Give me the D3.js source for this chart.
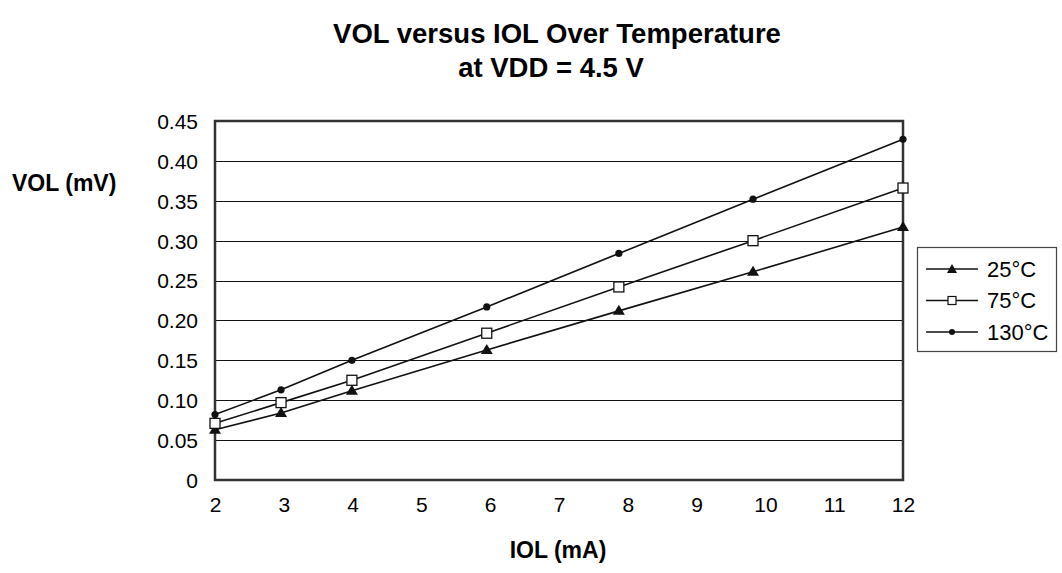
<!DOCTYPE html>
<html>
<head>
<meta charset="utf-8">
<script src="https://cdn.jsdelivr.net/npm/d3@7"></script>
<style>
  body { margin: 0; background: #fff; }
  svg { font-family: "Liberation Sans", Arial, sans-serif; }
</style>
</head>
<body>
<svg id="chart" width="1062" height="573"></svg>
<script>
// IOL (mA) where the points sit
const iol = [2, 2.96, 3.99, 5.95, 7.87, 9.82, 12];
const vol25 = [0.063, 0.084, 0.112, 0.163, 0.212, 0.261, 0.317];
const vol75 = [0.071, 0.097, 0.125, 0.184, 0.242, 0.300, 0.366];
const vol130 = [0.082, 0.113, 0.150, 0.217, 0.284, 0.352, 0.427];
const seriesNames = ["25°C", "75°C", "130°C"];
const xTicks = [2, 3, 4, 5, 6, 7, 8, 9, 10, 11, 12];
const yTicks = [0, 0.05, 0.10, 0.15, 0.20, 0.25, 0.30, 0.35, 0.40, 0.45];

const series = [
  { name: seriesNames[0], values: vol25, marker: "triangle" },
  { name: seriesNames[1], values: vol75, marker: "square" },
  { name: seriesNames[2], values: vol130, marker: "circle" }
];

const svg = d3.select("#chart");
const margin = { top: 121, left: 215, right: 159, bottom: 93 };
const width = 1062 - margin.left - margin.right,
  height = 573 - margin.top - margin.bottom;

const x = d3.scaleLinear().domain([2, 12]).range([0, width]);
const y = d3.scaleLinear().domain([0, 0.45]).range([height, 0]);

const g = svg.append("g").attr("transform", `translate(${margin.left},${margin.top})`);

// gridlines
g.selectAll(".grid")
  .data(yTicks.filter((d) => d > 0 && d < 0.45))
  .enter()
  .append("line")
  .attr("x1", 0)
  .attr("x2", width)
  .attr("y1", (d) => Math.round(y(d)) + 0.5)
  .attr("y2", (d) => Math.round(y(d)) + 0.5)
  .attr("stroke", "#111")
  .attr("stroke-width", 1);

// axes (labels only, no tick marks)
const yAxis = g.append("g")
  .call(d3.axisLeft(y).tickValues(yTicks).tickSize(0).tickPadding(17)
    .tickFormat((d) => (d === 0 ? "0" : d3.format(".2f")(d))));
yAxis.select(".domain").remove();
yAxis.selectAll("text").attr("font-size", 21).attr("fill", "#000").attr("dy", "0.35em");

const xAxis = g.append("g")
  .attr("transform", `translate(0,${height})`)
  .call(d3.axisBottom(x).tickValues(xTicks).tickSize(0).tickPadding(17).tickFormat(d3.format("d")));
xAxis.select(".domain").remove();
xAxis.selectAll("text").attr("font-size", 21).attr("fill", "#000");

// plot frame
g.append("rect")
  .attr("x", 0).attr("y", 0)
  .attr("width", width).attr("height", height)
  .attr("fill", "none")
  .attr("stroke", "#333")
  .attr("stroke-width", 2.5);

const line = d3.line().x((d, i) => x(iol[i])).y((d) => y(d));

function drawMarker(sel, type) {
  if (type === "triangle") {
    sel.append("path").attr("d", "M0,-6L6,4L-6,4Z").attr("fill", "#111");
  } else if (type === "square") {
    sel.append("rect").attr("x", -5).attr("y", -5).attr("width", 10).attr("height", 10)
      .attr("fill", "#fff").attr("stroke", "#111").attr("stroke-width", 1.3);
  } else {
    sel.append("circle").attr("r", 3.6).attr("fill", "#111");
  }
}

series.forEach((s) => {
  g.append("path")
    .datum(s.values)
    .attr("fill", "none")
    .attr("stroke", "#111")
    .attr("stroke-width", 1.6)
    .attr("d", line);

  g.selectAll(null)
    .data(s.values)
    .enter()
    .append("g")
    .attr("transform", (d, i) => `translate(${x(iol[i])},${y(d)})`)
    .each(function () { drawMarker(d3.select(this), s.marker); });
});

// titles
svg.append("text")
  .attr("x", 557).attr("y", 43)
  .attr("text-anchor", "middle")
  .attr("font-size", 27.5).attr("font-weight", "bold")
  .text("VOL versus IOL Over Temperature");
svg.append("text")
  .attr("x", 551).attr("y", 77)
  .attr("text-anchor", "middle")
  .attr("font-size", 27.5).attr("font-weight", "bold")
  .text("at VDD = 4.5 V");

svg.append("text")
  .attr("x", 12).attr("y", 191)
  .attr("font-size", 23).attr("font-weight", "bold")
  .text("VOL (mV)");
svg.append("text")
  .attr("x", 558).attr("y", 558)
  .attr("text-anchor", "middle")
  .attr("font-size", 23).attr("font-weight", "bold")
  .text("IOL (mA)");

// legend
const legend = svg.append("g").attr("transform", "translate(917,247)");
legend.append("rect")
  .attr("x", 0.5).attr("y", 0.5)
  .attr("width", 139).attr("height", 104)
  .attr("fill", "#fff").attr("stroke", "#444").attr("stroke-width", 1.2);

series.forEach((s, i) => {
  const row = legend.append("g").attr("transform", `translate(0,${22 + i * 31.5})`);
  row.append("line").attr("x1", 9).attr("x2", 61).attr("y1", 0).attr("y2", 0)
    .attr("stroke", "#111").attr("stroke-width", 1.4);
  const m = row.append("g").attr("transform", `translate(35,0)`);
  if (s.marker === "triangle") {
    m.append("path").attr("d", "M0,-5L5,4L-5,4Z").attr("fill", "#111");
  } else if (s.marker === "square") {
    m.append("rect").attr("x", -4).attr("y", -4).attr("width", 8).attr("height", 8)
      .attr("fill", "#fff").attr("stroke", "#111").attr("stroke-width", 1.2);
  } else {
    m.append("circle").attr("r", 3).attr("fill", "#111");
  }
  row.append("text")
    .attr("x", 70).attr("y", 0).attr("dy", "0.35em")
    .attr("font-size", 22)
    .text(s.name);
});
</script>
</body>
</html>
